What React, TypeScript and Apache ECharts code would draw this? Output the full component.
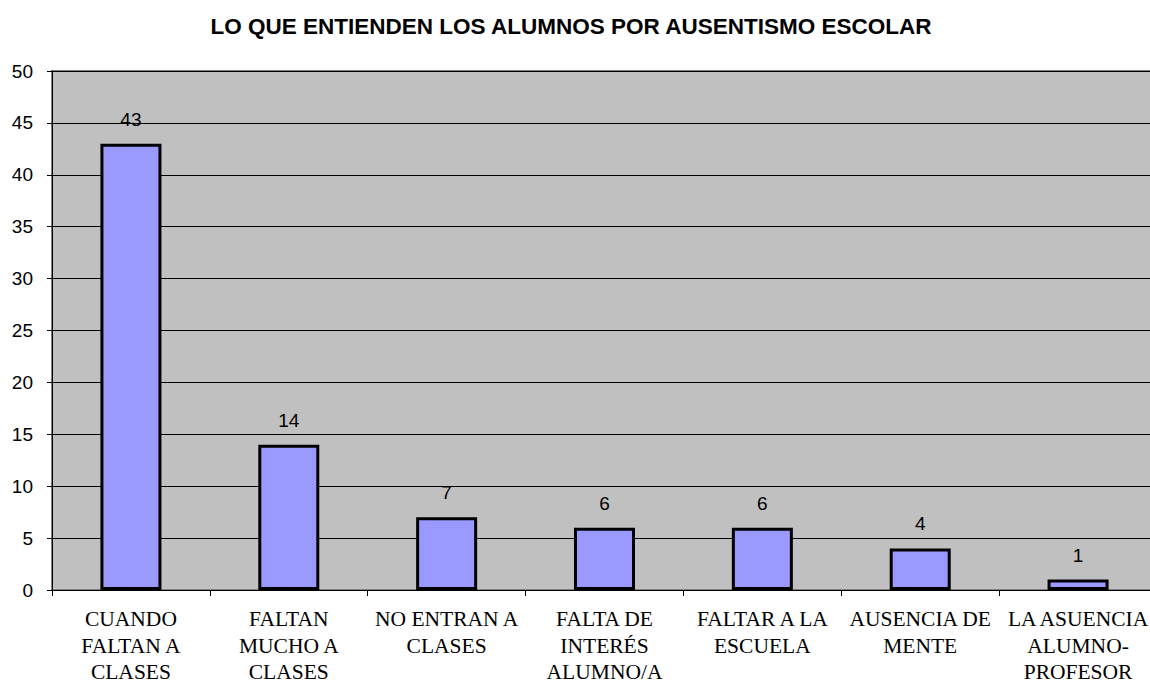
import React, { useEffect, useRef } from "react";
import * as echarts from "echarts";

const titleText = "LO QUE ENTIENDEN LOS ALUMNOS POR AUSENTISMO ESCOLAR";
const categories = [
  "CUANDO\nFALTAN A\nCLASES",
  "FALTAN\nMUCHO A\nCLASES",
  "NO ENTRAN A\nCLASES",
  "FALTA DE\nINTERÉS\nALUMNO/A",
  "FALTAR A LA\nESCUELA",
  "AUSENCIA DE\nMENTE",
  "LA ASUENCIA\nALUMNO-\nPROFESOR",
];
const values = [43, 14, 7, 6, 6, 4, 1];
const yMin = 0;
const yMax = 50;
const yInterval = 5;

export default function App() {
  const ref = useRef<HTMLDivElement>(null);
  useEffect(() => {
    if (!ref.current) return;
    const chart = echarts.init(ref.current, null, { renderer: "svg" });
    chart.setOption({
      animation: false,
      backgroundColor: "#ffffff",
      title: {
        text: titleText,
        left: 566,
        textAlign: "center",
        top: 10,
        textStyle: {
          fontFamily: "Liberation Sans, Arial, sans-serif",
          fontSize: 22.5,
          fontWeight: "bold",
          color: "#000",
        },
      },
      grid: {
        left: 52,
        right: 13,
        top: 71,
        bottom: 94,
        show: true,
        backgroundColor: "#C0C0C0",
        borderColor: "#808080",
        borderWidth: 2,
        containLabel: false,
        outerBoundsMode: "none",
      },
      xAxis: {
        type: "category",
        data: categories,
        axisLine: { show: true, lineStyle: { color: "#000", width: 1 } },
        axisTick: { show: true, alignWithLabel: false, length: 6, lineStyle: { color: "#000" } },
        axisLabel: {
          interval: 0,
          margin: 16,
          fontFamily: "Liberation Serif, Times New Roman, serif",
          fontSize: 21.5,
          lineHeight: 26.5,
          color: "#000",
        },
        splitLine: { show: false },
      },
      yAxis: {
        type: "value",
        min: yMin,
        max: yMax,
        interval: yInterval,
        axisLine: { show: true, lineStyle: { color: "#000", width: 1 } },
        axisTick: { show: true, length: 5, lineStyle: { color: "#000" } },
        axisLabel: {
          margin: 19,
          fontFamily: "Liberation Sans, Arial, sans-serif",
          fontSize: 19,
          color: "#000",
        },
        splitLine: { show: true, lineStyle: { color: "#000", width: 1 } },
      },
      series: [
        {
          type: "bar",
          data: values,
          barWidth: 61,
          itemStyle: { color: "#9999FF", borderColor: "#000", borderWidth: 3 },
          label: {
            show: true,
            position: "top",
            distance: 15,
            fontFamily: "Liberation Sans, Arial, sans-serif",
            fontSize: 19,
            color: "#000",
          },
        },
      ],
    });
    return () => chart.dispose();
  }, []);
  return (
    <div style={{ position: "fixed", left: 0, top: 0, width: 1150, height: 684, overflow: "hidden" }}>
      <div ref={ref} style={{ width: 1170, height: 684 }} />
    </div>
  );
}
